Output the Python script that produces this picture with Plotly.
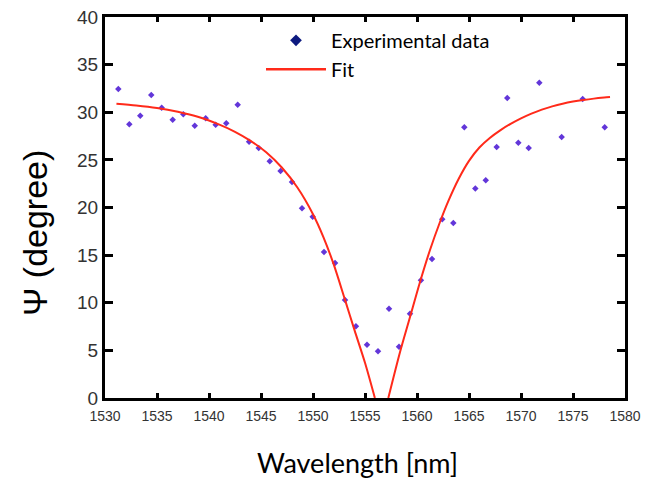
import plotly.graph_objects as go

exp_x = [1531.28, 1532.34, 1533.39, 1534.45, 1535.45, 1536.51, 1537.53, 1538.63, 1539.68, 1540.64,
         1541.66, 1542.76, 1543.85, 1544.78, 1545.84, 1546.88, 1547.98, 1548.94, 1549.97, 1551.06,
         1552.12, 1553.08, 1554.13, 1555.19, 1556.25, 1557.31, 1558.27, 1559.33, 1560.38, 1561.44,
         1562.43, 1563.49, 1564.55, 1565.61, 1566.61, 1567.66, 1568.68, 1569.74, 1570.74, 1571.76,
         1573.91, 1575.93, 1578.05]
exp_y = [32.44, 28.73, 29.64, 31.81, 30.48, 29.22, 29.78, 28.59, 29.36, 28.69,
         28.84, 30.79, 26.91, 26.25, 24.85, 23.83, 22.68, 19.92, 19.03, 15.33,
         14.17, 10.29, 7.53, 5.60, 4.90, 9.38, 5.39, 8.85, 12.36, 14.59,
         18.76, 18.37, 28.42, 22.00, 22.86, 26.35, 31.50, 26.80, 26.25, 33.10,
         27.40, 31.39, 28.42]

# Fit curve (gap where it dips below zero)
fit_x = [1531.1, 1533.0, 1535.0, 1537.0, 1539.0, 1541.0, 1542.5, 1544.0, 1545.5, 1547.0,
         1548.5, 1550.0, 1551.0, 1552.0, 1553.08, 1554.0, 1555.0, 1555.95,
         1556.5,
         1557.24, 1558.37, 1559.33, 1560.29, 1561.25, 1562.21, 1563.0, 1564.0, 1565.0, 1566.0,
         1567.0, 1568.0, 1569.0, 1570.0, 1571.0, 1572.0, 1573.0, 1574.0, 1575.0, 1576.0,
         1577.0, 1578.0, 1578.56]
fit_y = [30.90, 30.72, 30.45, 30.05, 29.50, 28.70, 27.95, 27.00, 25.80, 24.20,
         22.10, 19.30, 16.90, 14.00, 10.30, 7.10, 3.70, 0.0,
         None,
         0.0, 4.83, 8.50, 12.18, 15.54, 18.48, 20.65, 23.00, 24.90, 26.30,
         27.30, 28.10, 28.78, 29.36, 29.86, 30.28, 30.62, 30.90, 31.12, 31.29,
         31.43, 31.54, 31.59]

x_ticks = [1530, 1535, 1540, 1545, 1550, 1555, 1560, 1565, 1570, 1575, 1580]
y_ticks = [0, 5, 10, 15, 20, 25, 30, 35, 40]

fig = go.Figure()
fig.add_trace(go.Scatter(
    x=exp_x, y=exp_y, mode="markers", showlegend=False,
    marker=dict(symbol="diamond", size=5, color="#6236d9", line=dict(width=0)),
))
fig.add_trace(go.Scatter(
    x=fit_x, y=fit_y, mode="lines", showlegend=False, connectgaps=False,
    line=dict(color="#ff2a1a", width=2, shape="spline", smoothing=0.8),
))
# legend entries
fig.add_trace(go.Scatter(
    x=[None], y=[None], mode="markers", name="Experimental data",
    marker=dict(symbol="diamond", size=9, color="#0d1a80"),
))
fig.add_trace(go.Scatter(
    x=[None], y=[None], mode="lines", name="Fit",
    line=dict(color="#ff2a1a", width=2.5),
))

axis_common = dict(
    showline=True, linecolor="black", linewidth=3, mirror="allticks",
    ticks="inside", tickcolor="black", tickwidth=3,
    showgrid=False, zeroline=False, automargin=False,
)

fig.update_layout(
    width=656, height=479,
    margin=dict(l=105, r=31, t=17, b=81),
    plot_bgcolor="white", paper_bgcolor="white",
    xaxis=dict(range=[1530, 1580], tickvals=x_ticks, ticklen=5, ticklabelstandoff=3,
               tickfont=dict(family="Liberation Sans, Arial", size=14, color="#333333"),
               **axis_common),
    yaxis=dict(range=[0, 40], tickvals=y_ticks, ticklen=8,
               tickfont=dict(family="Liberation Sans, Arial", size=19, color="#333333"),
               **axis_common),
    legend=dict(x=0.30, y=0.99, xanchor="left", yanchor="top",
                bgcolor="rgba(0,0,0,0)", font=dict(family="Lato, Open Sans", size=20, color="black"),
                tracegroupgap=0, itemwidth=60),
    annotations=[
        dict(text="Wavelength [nm]", xref="paper", yref="paper", x=0.4865, y=-0.168,
             xanchor="center", yanchor="middle", showarrow=False,
             font=dict(family="Lato, Open Sans", size=27, color="black")),
        dict(text="Ψ (degree)", xref="paper", yref="paper", x=-0.1346, y=0.433,
             xanchor="center", yanchor="middle", showarrow=False, textangle=-90,
             font=dict(family="Liberation Sans, Arial", size=34, color="black")),
    ],
)

fig.write_html("out.html")
